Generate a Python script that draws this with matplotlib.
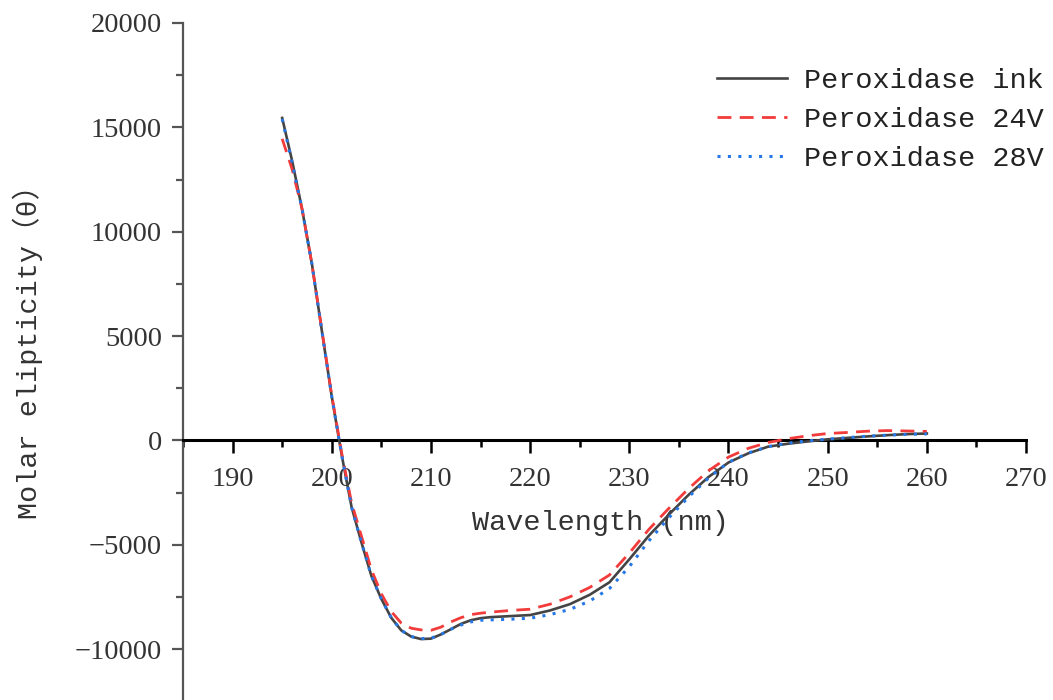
import matplotlib
matplotlib.use("Agg")
import matplotlib.pyplot as plt
from matplotlib.ticker import MultipleLocator

wavelength = [195, 196, 197, 198, 199, 200, 201, 202, 203, 204, 205, 206, 207, 208,
              209, 210, 211, 212, 213, 214, 215, 216, 218, 220, 222, 224, 226, 228,
              230, 232, 234, 236, 238, 240, 242, 244, 246, 248, 250, 252, 254, 256,
              258, 260]

ink = [15450, 13400, 11100, 8450, 5250, 2100, -700, -3200, -4900, -6500, -7600, -8500,
       -9100, -9400, -9520, -9500, -9300, -9050, -8800, -8620, -8520, -8470, -8420,
       -8370, -8150, -7850, -7400, -6800, -5700, -4550, -3550, -2600, -1750, -1060,
       -620, -300, -160, -50, 50, 120, 190, 250, 300, 330]

v24 = [14450, 13000, 11100, 8450, 5300, 2150, -600, -3000, -4600, -6200, -7350, -8200,
       -8750, -9000, -9080, -9100, -8950, -8700, -8500, -8350, -8280, -8230, -8150,
       -8090, -7850, -7500, -7050, -6450, -5400, -4250, -3250, -2300, -1450, -800,
       -380, -100, 80, 220, 330, 380, 440, 470, 450, 430]

v28 = [15400, 13300, 11100, 8450, 5250, 2100, -700, -3200, -4900, -6500, -7600, -8500,
       -9100, -9400, -9500, -9480, -9300, -9050, -8850, -8700, -8620, -8600, -8570,
       -8520, -8350, -8100, -7700, -7100, -6050, -4800, -3700, -2700, -1800, -1050,
       -600, -300, -130, -20, 60, 130, 200, 250, 290, 310]

labels = ["Peroxidase ink", "Peroxidase 24V", "Peroxidase 28V"]
x_ticks = [190, 200, 210, 220, 230, 240, 250, 260, 270]
y_ticks = [-10000, -5000, 0, 5000, 10000, 15000, 20000]

fig = plt.figure(figsize=(10.53, 7.0), dpi=100)
ax = fig.add_axes([183 / 1053, 0.0, (1026 - 183) / 1053, (700 - 23) / 700])

ax.plot(wavelength, ink, color="#444444", lw=1.9, ls="-", label=labels[0], zorder=3)
ax.plot(wavelength, v24, color="#f23b3b", lw=2.0, ls=(0, (5, 3)), label=labels[1], zorder=4)
ax.plot(wavelength, v28, color="#2677e6", lw=2.2, ls=(0, (1, 2.4)), label=labels[2], zorder=5)

ax.set_xlim(185, 270)
ax.set_ylim(-12440, 20000)

ax.spines["top"].set_visible(False)
ax.spines["right"].set_visible(False)
ax.spines["bottom"].set_position(("data", 0))
ax.spines["bottom"].set_color("black")
ax.spines["bottom"].set_linewidth(2.2)
ax.spines["left"].set_color("#555555")
ax.spines["left"].set_linewidth(1.6)

ax.set_xticks(x_ticks)
ax.set_yticks(y_ticks)
ax.xaxis.set_minor_locator(MultipleLocator(5))
ax.yaxis.set_minor_locator(MultipleLocator(2500))

ax.tick_params(axis="x", which="major", direction="out", length=9, width=1.8,
               color="black", pad=10, labelsize=20.5, labelcolor="#333333")
ax.tick_params(axis="x", which="minor", direction="out", length=5, width=1.8, color="black")
ax.tick_params(axis="y", which="major", direction="out", length=8, width=1.6,
               color="#555555", pad=7, labelsize=20.5, labelcolor="#333333")
ax.tick_params(axis="y", which="minor", direction="out", length=5, width=1.6, color="#555555")

for lab in ax.get_xticklabels() + ax.get_yticklabels():
    lab.set_fontfamily("Liberation Serif")

mono = ["Liberation Mono", "Noto Sans CJK SC", "DejaVu Sans"]

ax.set_xlabel("Wavelength (nm)", family=mono, fontsize=20.5, color="#333333")
ax.xaxis.set_label_coords((600 - 183) / 843, (700 - 523) / 677)
ax.xaxis.label.set_verticalalignment("center")

ax.set_ylabel("Molar elipticity（θ）", family=mono, fontsize=20.5, color="#333333")
ax.yaxis.set_label_coords((28 - 183) / 843, (700 - 345) / 677)
ax.yaxis.label.set_verticalalignment("center")

leg = ax.legend(loc="upper left", bbox_to_anchor=(717 / 1053, 1 - 68 / 700),
                bbox_transform=fig.transFigure, frameon=False,
                prop={"family": "Liberation Mono", "size": 20.5},
                handlelength=2.45, handletextpad=0.6, labelspacing=0.45,
                borderpad=0, borderaxespad=0)
for t in leg.get_texts():
    t.set_color("#222222")

fig.savefig("out.png", dpi=100)
